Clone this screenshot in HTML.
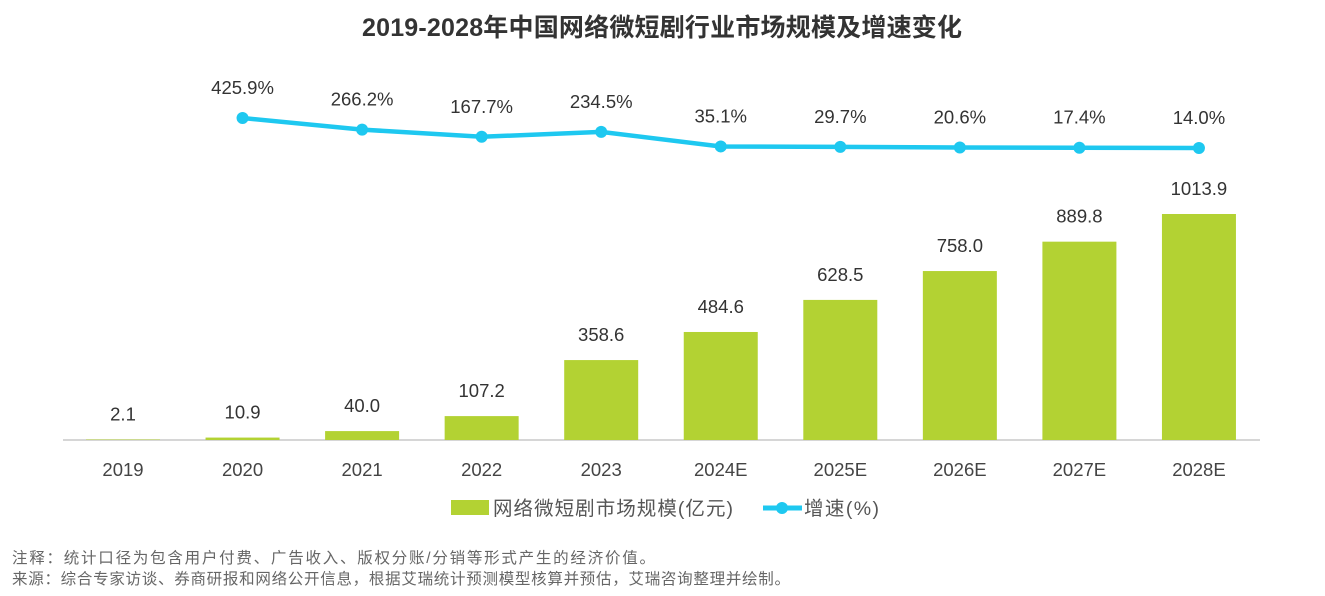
<!DOCTYPE html>
<html><head><meta charset="utf-8"><style>
body{margin:0;background:#fff;font-family:"Liberation Sans","Noto Sans CJK SC",sans-serif;}
</style></head><body>
<svg width="1325" height="591" xmlns="http://www.w3.org/2000/svg" font-family="Liberation Sans, Noto Sans CJK SC, sans-serif">
<text x="662" y="36" text-anchor="middle" font-size="25" font-weight="bold" fill="#333" textLength="600">2019-2028年中国网络微短剧行业市场规模及增速变化</text>
<line x1="63" y1="440" x2="1260" y2="440" stroke="#c8c8c8" stroke-width="1.5"/>
<g id="bars"></g><g id="line"></g><g id="xlabels"></g>
<g>
<rect x="451" y="500" width="38" height="15" fill="#b3d233"/>
<text x="493" y="515" font-size="19.5" fill="#555" textLength="240">网络微短剧市场规模(亿元)</text>
<line x1="763" y1="508" x2="802" y2="508" stroke="#1ec8f0" stroke-width="5"/>
<circle cx="782" cy="508" r="6" fill="#1ec8f0"/>
<text x="804" y="515" font-size="19.5" fill="#555" textLength="75">增速(%)</text>
</g>
<text x="12" y="563" font-size="15.5" fill="#666" textLength="643">注释：统计口径为包含用户付费、广告收入、版权分账/分销等形式产生的经济价值。</text>
<text x="12" y="584" font-size="15.5" fill="#666" textLength="778">来源：综合专家访谈、券商研报和网络公开信息，根据艾瑞统计预测模型核算并预估，艾瑞咨询整理并绘制。</text>
</svg>
<script>
const categories=["2019","2020","2021","2022","2023","2024E","2025E","2026E","2027E","2028E"];
const marketSize=[2.1,10.9,40.0,107.2,358.6,484.6,628.5,758.0,889.8,1013.9];
const growth=[null,425.9,266.2,167.7,234.5,35.1,29.7,20.6,17.4,14.0];
const NS="http://www.w3.org/2000/svg";
const x=i=>123+i*119.55;
const yBar=v=>440-v*0.2229;
const yLine=v=>149-v*0.0728;
function mk(t,a,p){const e=document.createElementNS(NS,t);for(const k in a)e.setAttribute(k,a[k]);p.appendChild(e);return e;}
const bars=document.getElementById('bars'),line=document.getElementById('line'),xl=document.getElementById('xlabels');
categories.forEach((c,i)=>{
 const r=mk('rect',{x:x(i)-37,y:yBar(marketSize[i]),width:74,height:440-yBar(marketSize[i]),fill:'#b3d233'},bars);
 
 
 const t=mk('text',{x:x(i),y:yBar(marketSize[i])-19,'text-anchor':'middle','font-size':18.5,fill:'#333'},bars);
 t.textContent=marketSize[i].toFixed(1);
 
 
 const l=mk('text',{x:x(i),y:476,'text-anchor':'middle','font-size':18.5,fill:'#444'},xl);
 l.textContent=c;
 
 
});
let pts=[];
growth.forEach((g,i)=>{if(g!==null)pts.push([x(i),yLine(g),g,categories[i]]);});
const pl=mk('polyline',{points:pts.map(p=>p[0]+','+p[1]).join(' '),fill:'none',stroke:'#1ec8f0','stroke-width':4.5},line);


pts.forEach(p=>{
 const c=mk('circle',{cx:p[0],cy:p[1],r:6,fill:'#1ec8f0'},line);
 
 
 const t=mk('text',{x:p[0],y:p[1]-24,'text-anchor':'middle','font-size':18.5,fill:'#333'},line);
 t.textContent=p[2].toFixed(1)+'%';
 
 
});
</script>
</body></html>
